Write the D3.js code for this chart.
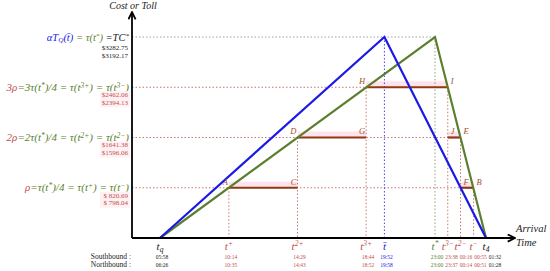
<!DOCTYPE html>
<html>
<head>
<style>
  body, html { margin: 0; padding: 0; background: #fff; }
</style>
</head>
<body>
<svg id="svg" width="550" height="271"></svg>
<script src="https://d3js.org/d3.v7.min.js"></script>
<script>
// event times, hours (past midnight kept above 24), southbound drives the drawing
const timeKeys = ['tq', 'tPlus', 't2Plus', 't3Plus', 'tBar', 'tStar', 't3Minus', 't2Minus', 'tMinus', 't4']
const southTimes = [5 + 58/60, 10 + 14/60, 14 + 29/60, 18 + 44/60, 19 + 52/60, 23, 23 + 38/60, 24 + 16/60, 24 + 55/60, 25 + 32/60]
const southLabels = ['05:58', '10:14', '14:29', '18:44', '19:52', '23:00', '23:38', '00:16', '00:55', '01:32']
const northLabels = ['06:26', '10:35', '14:43', '18:52', '19:58', '23:00', '23:37', '00:14', '00:51', '01:28']
// tick symbols: [subscript, superscript, bar]
const tickSymbols = [['q', '', 0], ['', '+', 0], ['', '2+', 0], ['', '3+', 0], ['', '', 1], ['', '*', 0], ['', '3\u2212', 0], ['', '2\u2212', 0], ['', '\u2212', 0], ['4', '', 0]]
const tickKinds = ['end', 'step', 'step', 'step', 'queue', 'toll', 'step', 'step', 'step', 'end']

// cost levels
const levelKeys = ['TC', 'rho3', 'rho2', 'rho']
const southCosts = [3282.75, 2462.06, 1641.38, 820.69]
const northCosts = [3192.17, 2394.13, 1596.06, 798.04]

// the curves and the step toll
const queueCost = [['tq', 'zero'], ['tBar', 'TC'], ['t4', 'zero']]
const tollCurve = [['tq', 'zero'], ['tStar', 'TC'], ['t4', 'zero']]
const steps = [
  ['tPlus', 't2Plus', 'rho', 'A', 'C'],
  ['t2Plus', 't3Plus', 'rho2', 'D', 'G'],
  ['t3Plus', 't3Minus', 'rho3', 'H', 'I'],
  ['t3Minus', 't2Minus', 'rho2', 'J', 'E'],
  ['t2Minus', 'tMinus', 'rho', 'F', 'B']
]

const T = {}; timeKeys.forEach((k, i) => T[k] = southTimes[i])
const C = { zero: 0 }; levelKeys.forEach((k, i) => C[k] = southCosts[i])

const blue = '#1a1ae6', green = '#5b7f2f', brown = '#8e3b14', red = '#c0504d'
const kindColor = { end: '#222', step: red, queue: blue, toll: green }

const svg = d3.select('#svg')
const x = d3.scaleLinear().domain([T.tq, T.tStar, T.t4]).range([160, 435, 486])
const y = d3.scaleLinear().domain([0, C.TC]).range([238, 37])
const x0 = 132

// arrow heads
const defs = svg.append('defs')
defs.append('marker').attr('id', 'arr').attr('viewBox', '0 0 10 10')
  .attr('refX', 8).attr('refY', 5).attr('markerWidth', 9).attr('markerHeight', 9)
  .attr('markerUnits', 'userSpaceOnUse').attr('orient', 'auto')
  .append('path').attr('d', 'M1,1 L9,5 L1,9').attr('fill', 'none')
  .attr('stroke', '#000').attr('stroke-width', 2)

// pink highlight bands behind step segments
svg.selectAll('.band').data(steps).join('rect')
  .attr('x', d => x(T[d[0]])).attr('y', d => y(C[d[2]]) - 6)
  .attr('width', d => x(T[d[1]]) - x(T[d[0]])).attr('height', 6)
  .attr('fill', '#ffe3ec')

// horizontal dotted guides
const levelEnd = { TC: 'tStar', rho3: 't3Minus', rho2: 't2Minus', rho: 'tMinus' }
svg.selectAll('.hguide').data(levelKeys).join('line')
  .attr('x1', x0).attr('x2', d => x(T[levelEnd[d]]))
  .attr('y1', d => y(C[d])).attr('y2', d => y(C[d]))
  .attr('stroke', d => d === 'TC' ? '#888' : red).attr('stroke-width', 0.8)
  .attr('stroke-dasharray', '1.5,2')

// vertical dotted guides
const tickLevel = { tPlus: 'rho', t2Plus: 'rho2', t3Plus: 'rho3', tBar: 'TC', tStar: 'TC', t3Minus: 'rho3', t2Minus: 'rho2', tMinus: 'rho' }
svg.selectAll('.vguide').data(Object.keys(tickLevel)).join('line')
  .attr('x1', d => x(T[d])).attr('x2', d => x(T[d]))
  .attr('y1', d => y(C[tickLevel[d]])).attr('y2', y(0))
  .attr('stroke', d => d === 'tBar' ? blue : d === 'tStar' ? '#7a8a50' : red)
  .attr('stroke-width', 0.8).attr('stroke-dasharray', '1.5,2')

// step toll segments
svg.selectAll('.step').data(steps).join('line')
  .attr('x1', d => x(T[d[0]])).attr('x2', d => x(T[d[1]]))
  .attr('y1', d => y(C[d[2]])).attr('y2', d => y(C[d[2]]))
  .attr('stroke', brown).attr('stroke-width', 2.2)

// curves
const line = d3.line().x(d => x(T[d[0]])).y(d => y(C[d[1]]))
svg.append('path').attr('d', line(tollCurve)).attr('fill', 'none')
  .attr('stroke', green).attr('stroke-width', 2.2)
svg.append('path').attr('d', line(queueCost)).attr('fill', 'none')
  .attr('stroke', blue).attr('stroke-width', 2.2)

// axes
svg.append('line').attr('x1', x0).attr('x2', x0).attr('y1', y(0)).attr('y2', 13)
  .attr('stroke', '#000').attr('stroke-width', 1.8).attr('marker-end', 'url(#arr)')
svg.append('line').attr('x1', x0).attr('x2', 514).attr('y1', y(0)).attr('y2', y(0))
  .attr('stroke', '#000').attr('stroke-width', 1.8).attr('marker-end', 'url(#arr)')

const serif = "'Liberation Serif', 'DejaVu Serif', serif"
svg.append('text').attr('x', 133).attr('y', 9).attr('text-anchor', 'middle')
  .attr('font-family', serif).attr('font-style', 'italic').attr('font-size', 10)
  .attr('fill', '#222').text('Cost or Toll')
svg.append('text').attr('x', 516).attr('y', 232)
  .attr('font-family', serif).attr('font-style', 'italic').attr('font-size', 10.5)
  .attr('fill', '#222').text('Arrival')
svg.append('text').attr('x', 516).attr('y', 246)
  .attr('font-family', serif).attr('font-style', 'italic').attr('font-size', 10.5)
  .attr('fill', '#222').text('Time')

// point letters: left end of the rising steps sits left, falling steps sit right
const letters = []
steps.forEach((d, i) => {
  letters.push([d[0], d[2], d[3], i < 3 ? 'end' : 'start'])
  letters.push([d[1], d[2], d[4], i < 2 ? 'end' : 'start'])
})
svg.selectAll('.letter').data(letters).join('text')
  .attr('x', d => x(T[d[0]]) + (d[3] === 'end' ? -1 : 3))
  .attr('y', d => y(C[d[1]]) - 3)
  .attr('text-anchor', d => d[3])
  .attr('font-family', serif).attr('font-style', 'italic').attr('font-size', 8.5)
  .attr('fill', '#a0522d').text(d => d[2])

// rich text helper: parts = [text, color, shift]
function rich(g, xx, yy, parts, size) {
  const t = g.append('text').attr('x', xx).attr('y', yy).attr('text-anchor', 'end')
    .attr('font-family', serif).attr('font-style', 'italic').attr('font-size', size)
  parts.forEach(p => {
    const s = t.append('tspan').attr('fill', p[1]).text(p[0])
    if (p[2]) s.attr('font-size', size * 0.68).attr('baseline-shift', p[2] > 0 ? '40%' : '-20%')
  })
  return t
}

const levelFormulas = {
  TC: [['\u03b1T', blue], ['Q', blue, -1], ['(t\u0304)', blue], [' = \u03c4(t', green], ['*', green, 1], [')', green], [' =TC', '#222'], ['*', '#222', 1]],
  rho3: [['3\u03c1', red], ['=3\u03c4(t', green], ['*', green, 1], [')/4 = \u03c4(t', green], ['3+', green, 1], [') = \u03c4(t', green], ['3\u2212', green, 1], [')', green]],
  rho2: [['2\u03c1', red], ['=2\u03c4(t', green], ['*', green, 1], [')/4 = \u03c4(t', green], ['2+', green, 1], [') = \u03c4(t', green], ['2\u2212', green, 1], [')', green]],
  rho: [['\u03c1', red], ['=\u03c4(t', green], ['*', green, 1], [')/4 = \u03c4(t', green], ['+', green, 1], [') = \u03c4(t', green], ['\u2212', green, 1], [')', green]]
}
const formulaSize = { TC: 10.5, rho3: 11, rho2: 11, rho: 11 }
levelKeys.forEach((k, i) => {
  const yy = y(C[k])
  rich(svg, 129, yy + 3.5, levelFormulas[k], formulaSize[k])
  const top = k === 'TC' ? 13 : 10
  const col = k === 'TC' ? '#222' : red
  if (k !== 'TC') {
    svg.append('rect').attr('x', 100).attr('y', yy + top - 6).attr('width', 30).attr('height', 16)
      .attr('fill', '#fff0f4')
  }
  const fmt = v => k === 'rho' ? '$ ' + v.toFixed(2) : '$' + v.toFixed(2)
  ;[southCosts[i], northCosts[i]].forEach((v, j) => {
    svg.append('text').attr('x', 128).attr('y', yy + top + j * 7.5).attr('text-anchor', 'end')
      .attr('font-family', serif).attr('font-size', 7).attr('fill', col).text(fmt(v))
  })
})

// tick symbols under the time axis
timeKeys.forEach((k, i) => {
  const [sub, sup, bar] = tickSymbols[i]
  const t = svg.append('text').attr('x', x(T[k])).attr('y', 250).attr('text-anchor', 'middle')
    .attr('font-family', serif).attr('font-style', 'italic').attr('font-size', 11)
    .attr('fill', kindColor[tickKinds[i]])
  t.append('tspan').text(bar ? 't\u0304' : 't')
  if (sub) t.append('tspan').attr('font-size', 7.5).attr('baseline-shift', '-25%').text(sub)
  if (sup) t.append('tspan').attr('font-size', 7.5).attr('baseline-shift', '45%').text(sup)
})

// clock times under each tick, spread apart where crowded
let prev = -Infinity
const centers = timeKeys.map(k => { const c = Math.max(x(T[k]) + 2, prev + 14.5); prev = c; return c })
;[southLabels, northLabels].forEach((labels, row) => {
  svg.append('text').attr('x', 131).attr('y', 259 + row * 7.5).attr('text-anchor', 'end')
    .attr('font-family', serif).attr('font-size', 7.5).attr('fill', '#222')
    .text(row === 0 ? 'Southbound :' : 'Northbound :')
  svg.selectAll('.tl' + row).data(labels).join('text')
    .attr('x', (d, i) => centers[i]).attr('y', 259 + row * 7.5).attr('text-anchor', 'middle')
    .attr('font-family', serif).attr('font-size', 5.5).attr('fill', (d, i) => kindColor[tickKinds[i]])
    .text(d => d)
})
</script>
</body>
</html>
